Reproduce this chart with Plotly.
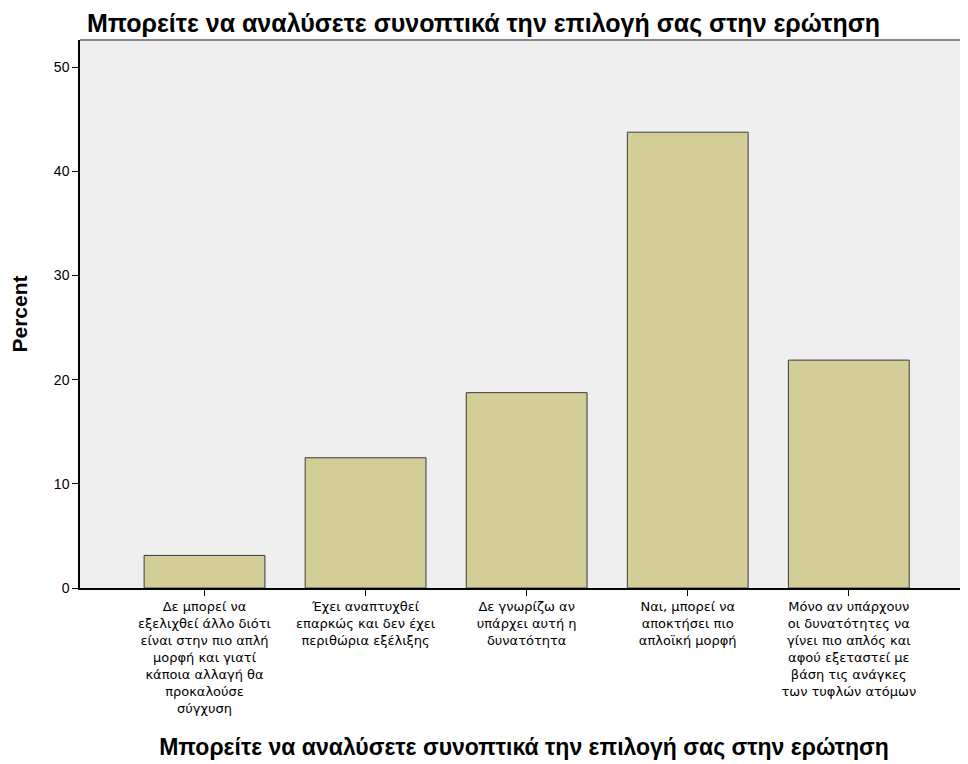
import plotly.graph_objects as go

categories = [
    "Δε μπορεί να<br>εξελιχθεί άλλο διότι<br>είναι στην πιο απλή<br>μορφή και γιατί<br>κάποια αλλαγή θα<br>προκαλούσε<br>σύγχυση",
    "Έχει αναπτυχθεί<br>επαρκώς και δεν έχει<br>περιθώρια εξέλιξης",
    "Δε γνωρίζω αν<br>υπάρχει αυτή η<br>δυνατότητα",
    "Ναι, μπορεί να<br>αποκτήσει πιο<br>απλοϊκή μορφή",
    "Μόνο αν υπάρχουν<br>οι δυνατότητες να<br>γίνει πιο απλός και<br>αφού εξεταστεί με<br>βάση τις ανάγκες<br>των τυφλών ατόμων",
]
percent = [3.125, 12.5, 18.75, 43.75, 21.875]
y_ticks = [0, 10, 20, 30, 40, 50]
title_text = "Μπορείτε να αναλύσετε συνοπτικά την επιλογή σας στην ερώτηση"

# page body has an 8px margin; figure is sized/offset to compensate
W, H = 960, 756
fig = go.Figure(go.Bar(
    x=list(range(len(categories))),
    y=percent,
    width=0.75,
    marker=dict(color="#D3CE97", line=dict(color="#3a3a3a", width=1)),
))

fig.update_layout(
    width=W, height=H,
    margin=dict(l=72, r=0, t=32, b=176),
    paper_bgcolor="white",
    plot_bgcolor="#EFEFEF",
    font=dict(family="Liberation Sans, Arial, sans-serif", color="black", size=13),
    showlegend=False,
    title=dict(
        text="<b>" + title_text + "</b>",
        font=dict(size=25, color="black"),
        xref="container", yref="container",
        x=79 / W, xanchor="left",
        y=1 - 15.5 / H, yanchor="middle",
        pad=dict(t=0, b=0, l=0, r=0),
    ),
    xaxis=dict(
        tickmode="array",
        tickvals=list(range(len(categories))),
        ticktext=categories,
        range=[-0.773, 4.74],
        showline=True, linecolor="black", linewidth=1.5,
        ticks="outside", ticklen=6, tickcolor="black",
        showgrid=False, zeroline=False,
        tickfont=dict(size=13, family="DejaVu Sans, sans-serif"),
        tickangle=0,
        title=dict(text="<b>" + title_text + "</b>", font=dict(size=23), standoff=24),
    ),
    yaxis=dict(
        range=[0, 52.6],
        tickmode="array", tickvals=y_ticks,
        showline=True, linecolor="black", linewidth=1.5,
        ticks="outside", ticklen=6, tickcolor="black",
        showgrid=False, zeroline=False,
        tickfont=dict(size=14),
        title=dict(text="<b>Percent</b>", font=dict(size=21), standoff=22),
    ),
    shapes=[dict(type="line", xref="paper", yref="paper", x0=0, x1=1, y0=1, y1=1,
                 line=dict(color="#8a8a8a", width=2))],
)

fig.write_html("out.html")
